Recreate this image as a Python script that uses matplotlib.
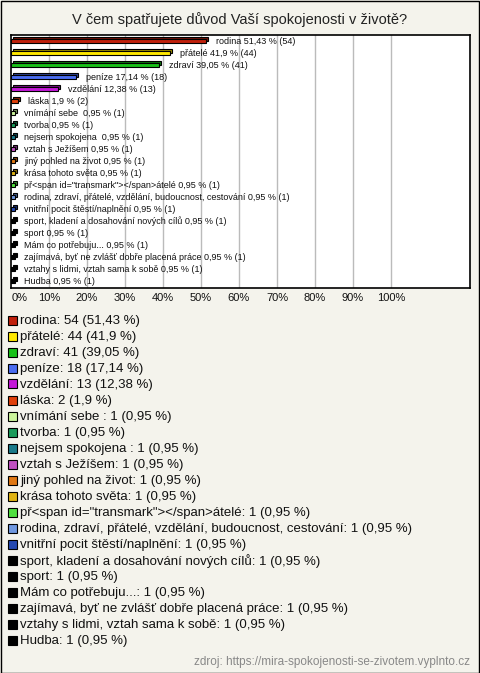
import numpy as np
import matplotlib.pyplot as plt
from matplotlib.patches import Rectangle
from matplotlib.colors import to_rgb

plt.rcParams['font.family'] = ['Liberation Sans', 'DejaVu Sans']

title = "V čem spatřujete důvod Vaší spokojenosti v životě?"
source = "zdroj: https://mira-spokojenosti-se-zivotem.vyplnto.cz"

labels = [
    "rodina", "přátelé", "zdraví", "peníze", "vzdělání", "láska",
    "vnímání sebe ", "tvorba", "nejsem spokojena ", "vztah s Ježíšem",
    "jiný pohled na život", "krása tohoto světa",
    'př<span id="transmark"></span>átelé',
    "rodina, zdraví, přátelé, vzdělání, budoucnost, cestování",
    "vnitřní pocit štěstí/naplnění",
    "sport, kladení a dosahování nových cílů", "sport", "Mám co potřebuju...",
    "zajímavá, byť ne zvlášť dobře placená práce",
    "vztahy s lidmi, vztah sama k sobě", "Hudba",
]
counts = [54, 44, 41, 18, 13, 2] + [1] * 15
percents = [51.43, 41.9, 39.05, 17.14, 12.38, 1.9] + [0.95] * 15
colors = [
    "#c0200c", "#ffe800", "#18c018", "#4a6cf0", "#c418d8", "#e0400c",
    "#ccf59c", "#1a9a5a", "#1a7a8a", "#c050c0", "#e07814", "#e0b414",
    "#50e040", "#7098e0", "#2448b0",
] + ["#000000"] * 6

ticks = np.arange(0, 101, 10)
tick_labels = [f"{t}%" for t in ticks]

W, H = 480, 673
fig = plt.figure(figsize=(W / 100, H / 100), dpi=100)
fig.patch.set_facecolor("#f4f3ec")
fig.patches.append(Rectangle((0.5 / W, 0.5 / H), 1 - 1.5 / W, 1 - 1.5 / H,
                             transform=fig.transFigure, fill=False,
                             edgecolor="black", linewidth=1))

fig.text(0.5, 1 - 20 / H, title, ha="center", va="center", fontsize=10.5,
         color="#222222")

# plot area
ax = fig.add_axes([11 / W, 1 - 288 / H, 459 / W, 253 / H])
ax.set_facecolor("white")
n = len(labels)
ax.set_xlim(0, 120.8)
ax.set_ylim(n - 1 + 0.58, -0.5)
for t in ticks[1:]:
    ax.axvline(t, color="#bbbbbb", linewidth=1, zorder=0)

px_x = 120.8 / 459
px_y = (n - 1 + 0.58 + 0.5) / 253
dx, dy = 2 * px_x, 2 * px_y
bh = 4.5 * px_y
for i, (p, c, lab, cnt) in enumerate(zip(percents, colors, labels, counts)):
    dark = tuple(v * 0.6 for v in to_rgb(c))
    # 3d back face
    ax.add_patch(Rectangle((dx, i - bh / 2 - dy), p, bh, facecolor=dark,
                           edgecolor="black", linewidth=0.8, zorder=2))
    ax.add_patch(Rectangle((0, i - bh / 2), p, bh, facecolor=c,
                           edgecolor="black", linewidth=0.8, zorder=3))
    pct = f"{p:g}".replace(".", ",")
    ax.annotate(f"{lab} {pct} % ({cnt})", xy=(p + dx, i), xytext=(5.5, 0),
                textcoords="offset points", va="center", ha="left",
                fontsize=6.5, color="#111111", zorder=4)

ax.set_xticks([])
ax.set_yticks([])
for s in ax.spines.values():
    s.set_linewidth(1.2)
    s.set_color("black")

# tick labels under plot
for t, tl in zip(ticks, tick_labels):
    x = (11 + t * 3.8) / W
    fig.text(x if t else 12 / W, 1 - 298 / H, tl, ha="center" if t else "left",
             va="center", fontsize=8, color="#111111")

# legend
for i, (p, c, lab, cnt) in enumerate(zip(percents, colors, labels, counts)):
    yc = 321 + i * 16
    fig.patches.append(Rectangle((8 / W, 1 - (yc + 3.5) / H), 9 / W, 9 / H,
                                 transform=fig.transFigure, facecolor=c,
                                 edgecolor="black", linewidth=0.8))
    pct = f"{p:g}".replace(".", ",")
    fig.text(20 / W, 1 - yc / H, f"{lab}: {cnt} ({pct} %)", ha="left",
             va="center", fontsize=9.5, color="#111111")

fig.text(470 / W, 1 - 662 / H, source, ha="right", va="center", fontsize=8.5,
         color="#888888")

fig.savefig("out.png", dpi=100, facecolor=fig.get_facecolor())
